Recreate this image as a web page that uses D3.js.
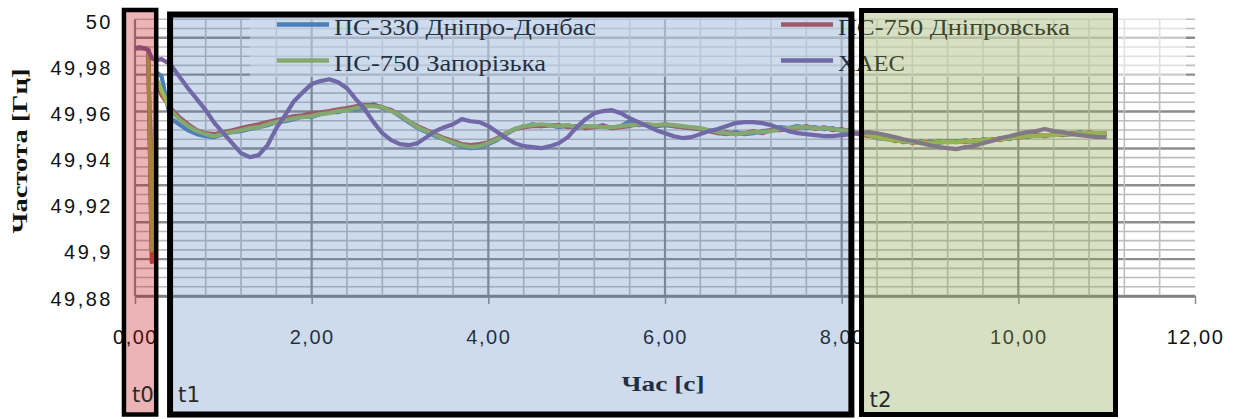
<!DOCTYPE html>
<html>
<head>
<meta charset="utf-8">
<script src="https://cdn.jsdelivr.net/npm/d3@7"></script>
<style>
  body { margin: 0; background: #fff; }
  svg { display: block; }
</style>
</head>
<body>
<svg id="chart" width="1236" height="419"></svg>
<script>
// time, s
const timeS = [
  0, 0.05, 0.1, 0.15, 0.19, 0.24, 0.3,
  0.4, 0.5, 0.6, 0.7, 0.8, 0.9, 1.0, 1.1, 1.2, 1.3,
  1.4, 1.5, 1.6, 1.7, 1.8, 1.9, 2.0, 2.1, 2.2, 2.3,
  2.4, 2.5, 2.6, 2.7, 2.8, 2.9, 3.0, 3.1, 3.2, 3.3,
  3.4, 3.5, 3.6, 3.7, 3.8, 3.9, 4.0, 4.1, 4.2, 4.3,
  4.4, 4.5, 4.6, 4.7, 4.8, 4.9, 5.0, 5.1, 5.2, 5.3,
  5.4, 5.5, 5.6, 5.7, 5.8, 5.9, 6.0, 6.1, 6.2, 6.3,
  6.4, 6.5, 6.6, 6.7, 6.8, 6.9, 7.0, 7.1, 7.2, 7.3,
  7.4, 7.5, 7.6, 7.7, 7.8, 7.9, 8.0, 8.1, 8.2, 8.3,
  8.4, 8.5, 8.6, 8.7, 8.8, 8.9, 9.0, 9.1, 9.2, 9.3,
  9.4, 9.5, 9.6, 9.7, 9.8, 9.9, 10.0, 10.1, 10.2, 10.3,
  10.4, 10.5, 10.6, 10.7, 10.8, 10.9, 11.0
];

// frequency, Hz
const dniproDonbas = [
  49.9875, 49.9875, 49.9875, 49.9871, 49.9003, 49.9771, 49.9753,
  49.9571, 49.9545, 49.9519, 49.9502, 49.9493, 49.9489, 49.9502, 49.9511, 49.9515, 49.9524,
  49.9532, 49.9541, 49.9554, 49.9558, 49.9567, 49.9580, 49.9576, 49.9589, 49.9597, 49.9597,
  49.9610, 49.9610, 49.9619, 49.9632, 49.9615, 49.9606, 49.9580, 49.9554, 49.9528, 49.9511,
  49.9493, 49.9480, 49.9463, 49.9450, 49.9441, 49.9446, 49.9459, 49.9476, 49.9502, 49.9524,
  49.9532, 49.9545, 49.9537, 49.9541, 49.9532, 49.9541, 49.9528, 49.9537, 49.9532, 49.9541,
  49.9528, 49.9537, 49.9558, 49.9541, 49.9545, 49.9537, 49.9541, 49.9537, 49.9532, 49.9528,
  49.9524, 49.9519, 49.9506, 49.9502, 49.9511, 49.9502, 49.9506, 49.9515, 49.9519, 49.9532,
  49.9528, 49.9537, 49.9528, 49.9532, 49.9524, 49.9528, 49.9515, 49.9519, 49.9502, 49.9498,
  49.9485, 49.9480, 49.9480, 49.9467, 49.9472, 49.9463, 49.9472, 49.9463, 49.9472, 49.9467,
  49.9476, 49.9467, 49.9480, 49.9476, 49.9485, 49.9480, 49.9493, 49.9489, 49.9498, 49.9493,
  49.9502, 49.9498, 49.9502, 49.9511, 49.9502, 49.9506, 49.9502
];
const dniprovska = [
  49.9875, 49.9875, 49.9875, 49.9871, 49.8947, 49.9736, 49.9671,
  49.9615, 49.9576, 49.9545, 49.9519, 49.9506, 49.9502, 49.9511, 49.9519, 49.9528, 49.9537,
  49.9545, 49.9554, 49.9563, 49.9571, 49.9580, 49.9584, 49.9593, 49.9597, 49.9602, 49.9610,
  49.9615, 49.9623, 49.9628, 49.9628, 49.9619, 49.9606, 49.9584, 49.9558, 49.9537, 49.9519,
  49.9502, 49.9485, 49.9472, 49.9459, 49.9454, 49.9459, 49.9467, 49.9485, 49.9506, 49.9524,
  49.9532, 49.9537, 49.9537, 49.9541, 49.9541, 49.9532, 49.9537, 49.9528, 49.9532, 49.9537,
  49.9528, 49.9532, 49.9537, 49.9545, 49.9541, 49.9537, 49.9545, 49.9537, 49.9532, 49.9528,
  49.9524, 49.9515, 49.9506, 49.9511, 49.9502, 49.9506, 49.9515, 49.9506, 49.9519, 49.9519,
  49.9524, 49.9528, 49.9537, 49.9524, 49.9532, 49.9519, 49.9524, 49.9511, 49.9502, 49.9493,
  49.9493, 49.9485, 49.9472, 49.9476, 49.9463, 49.9472, 49.9463, 49.9472, 49.9467, 49.9472,
  49.9467, 49.9476, 49.9472, 49.9480, 49.9476, 49.9489, 49.9485, 49.9493, 49.9498, 49.9493,
  49.9502, 49.9498, 49.9506, 49.9502, 49.9511, 49.9502, 49.9506
];
const zaporizka = [
  49.9875, 49.9875, 49.9875, 49.9871, 49.8999, 49.9745, 49.9692,
  49.9606, 49.9567, 49.9537, 49.9515, 49.9502, 49.9493, 49.9506, 49.9511, 49.9519, 49.9528,
  49.9532, 49.9545, 49.9554, 49.9563, 49.9571, 49.9576, 49.9580, 49.9589, 49.9593, 49.9602,
  49.9606, 49.9615, 49.9623, 49.9623, 49.9619, 49.9602, 49.9584, 49.9558, 49.9532, 49.9515,
  49.9498, 49.9480, 49.9467, 49.9454, 49.9446, 49.9450, 49.9463, 49.9480, 49.9506, 49.9524,
  49.9537, 49.9541, 49.9545, 49.9541, 49.9537, 49.9541, 49.9532, 49.9536, 49.9537, 49.9532,
  49.9532, 49.9537, 49.9541, 49.9545, 49.9545, 49.9541, 49.9545, 49.9541, 49.9537, 49.9532,
  49.9528, 49.9519, 49.9511, 49.9506, 49.9502, 49.9506, 49.9511, 49.9511, 49.9515, 49.9524,
  49.9528, 49.9532, 49.9532, 49.9528, 49.9528, 49.9524, 49.9519, 49.9515, 49.9506, 49.9498,
  49.9489, 49.9480, 49.9476, 49.9472, 49.9467, 49.9467, 49.9463, 49.9467, 49.9467, 49.9467,
  49.9472, 49.9472, 49.9476, 49.9476, 49.9480, 49.9485, 49.9489, 49.9493, 49.9493, 49.9498,
  49.9498, 49.9502, 49.9502, 49.9506, 49.9506, 49.9506, 49.9502
];
const haes = [
  49.9875, 49.9879, 49.9875, 49.9866, 49.9831, 49.9823, 49.9827,
  49.9805, 49.9753, 49.9701, 49.9654, 49.9606, 49.9550, 49.9506, 49.9463, 49.9420, 49.9402,
  49.9411, 49.9454, 49.9528, 49.9584, 49.9645, 49.9684, 49.9719, 49.9732, 49.9740, 49.9727,
  49.9701, 49.9654, 49.9610, 49.9554, 49.9506, 49.9476, 49.9459, 49.9454, 49.9463, 49.9489,
  49.9515, 49.9532, 49.9545, 49.9567, 49.9558, 49.9554, 49.9537, 49.9511, 49.9485, 49.9463,
  49.9450, 49.9446, 49.9441, 49.9450, 49.9463, 49.9489, 49.9532, 49.9567, 49.9593, 49.9602,
  49.9606, 49.9593, 49.9571, 49.9554, 49.9537, 49.9519, 49.9506, 49.9493, 49.9485, 49.9489,
  49.9502, 49.9515, 49.9524, 49.9537, 49.9550, 49.9554, 49.9554, 49.9550, 49.9541, 49.9528,
  49.9515, 49.9506, 49.9502, 49.9498, 49.9493, 49.9493, 49.9498, 49.9502, 49.9506, 49.9511,
  49.9506, 49.9498, 49.9489, 49.9480, 49.9472, 49.9463, 49.9454, 49.9446, 49.9441, 49.9437,
  49.9446, 49.9450, 49.9463, 49.9472, 49.9485, 49.9493, 49.9502, 49.9511, 49.9515, 49.9524,
  49.9515, 49.9511, 49.9502, 49.9498, 49.9493, 49.9489, 49.9489
];

const seriesNames = ['ПС-330 Дніпро-Донбас', 'ПС-750 Дніпровська', 'ПС-750 Запорізька', 'ХАЕС'];
const seriesValues = [dniproDonbas, dniprovska, zaporizka, haes];
const seriesColors = ['#4a7ebb', '#be4b48', '#98b954', '#7d60a0'];

const xTicks = [0, 2, 4, 6, 8, 10, 12];
const yTicks = [49.88, 49.9, 49.92, 49.94, 49.96, 49.98, 50];

// highlighted time intervals (s)
const zoneNames = ['t0', 't1', 't2'];
const zoneStart = [-0.125, 0.397, 8.225];
const zoneEnd = [0.24, 8.11, 11.1];

const svg = d3.select('#chart');

const x = d3.scaleLinear().domain([0, 12]).range([135, 1195]);
const y = d3.scaleLinear().domain([49.88, 50]).range([296, 19.3]);

const serif = '"Liberation Serif", "Times New Roman", serif';
const sans = '"Liberation Sans", Arial, sans-serif';

// gridlines: minor every 0.4 s / 0.004 Hz, major every 2 s / 0.016 Hz
const grid = svg.append('g');
const xMinor = d3.range(0, 11.9, 0.4);
const yMinor = d3.range(0, 31).map(i => 49.88 + i * 0.004);

grid.selectAll('line.hminor')
  .data(yMinor)
  .enter().append('line')
  .attr('x1', x(0)).attr('x2', x(12))
  .attr('y1', d => y(d)).attr('y2', d => y(d))
  .attr('stroke', (d, i) => i % 4 === 0 ? '#8c8c8c' : '#bdbdbd')
  .attr('stroke-width', (d, i) => i % 4 === 0 ? 2.4 : 1.6);

grid.selectAll('line.vminor')
  .data(xMinor)
  .enter().append('line')
  .attr('x1', d => x(d)).attr('x2', d => x(d))
  .attr('y1', y(50)).attr('y2', y(49.88))
  .attr('stroke', (d, i) => i % 5 === 0 ? '#8c8c8c' : '#bdbdbd')
  .attr('stroke-width', (d, i) => i % 5 === 0 ? 2.2 : 1.6);

// series
const line = d3.line()
  .x((d, i) => x(timeS[i]))
  .y(d => y(d));

svg.append('g').selectAll('path')
  .data(seriesValues)
  .enter().append('path')
  .attr('d', d => line(d))
  .attr('fill', 'none')
  .attr('stroke', (d, i) => seriesColors[i])
  .attr('stroke-width', 4.2)
  .attr('stroke-linejoin', 'round');

// x axis
const xAxis = svg.append('g')
  .attr('transform', `translate(0,${y(49.88)})`)
  .call(d3.axisBottom(x)
    .tickValues(xTicks)
    .tickSize(8)
    .tickSizeOuter(0)
    .tickFormat(d => d.toFixed(2).replace('.', ',')));
xAxis.select('.domain').attr('stroke', '#7f7f7f').attr('stroke-width', 2.5);
xAxis.selectAll('.tick line').attr('stroke', '#8c8c8c').attr('stroke-width', 1.5);
xAxis.selectAll('text')
  .attr('y', 48).attr('dy', 0)
  .attr('font-family', sans).attr('font-size', 20)
  .attr('letter-spacing', 1.5)
  .attr('fill', '#111');

// y axis
const yAxis = svg.append('g')
  .attr('transform', `translate(${x(0)},0)`)
  .call(d3.axisLeft(y)
    .tickValues(yTicks)
    .tickSize(0)
    .tickPadding(22)
    .tickFormat(d => String(+d.toFixed(2)).replace('.', ',')));
yAxis.select('.domain').remove();
yAxis.selectAll('text')
  .attr('dy', 9)
  .attr('font-family', sans).attr('font-size', 20)
  .attr('letter-spacing', 2.5)
  .attr('fill', '#111');

// axis titles
svg.append('text')
  .attr('transform', 'translate(27,151) rotate(-90)')
  .attr('text-anchor', 'middle')
  .attr('font-family', serif).attr('font-weight', 'bold').attr('font-size', 21)
  .attr('textLength', 165).attr('lengthAdjust', 'spacingAndGlyphs')
  .attr('fill', '#111')
  .text('Частота [Гц]');

svg.append('text')
  .attr('x', 663).attr('y', 391)
  .attr('text-anchor', 'middle')
  .attr('font-family', serif).attr('font-weight', 'bold').attr('font-size', 20)
  .attr('textLength', 83).attr('lengthAdjust', 'spacingAndGlyphs')
  .attr('fill', '#111')
  .text('Час [с]');

// legend
svg.append('rect')
  .attr('x', 250).attr('y', 18).attr('width', 936).attr('height', 59)
  .attr('fill', '#fff').attr('fill-opacity', 0.55);

const legendX = [277, 781, 277, 781];
const legendY = [24.5, 24.5, 60.5, 60.5];
const legendLen = [262, 232, 212, 67];
const legend = svg.append('g').selectAll('g')
  .data(seriesNames)
  .enter().append('g')
  .attr('transform', (d, i) => `translate(${legendX[i]},${legendY[i]})`);
legend.append('line')
  .attr('x1', 0).attr('x2', 52)
  .attr('stroke', (d, i) => seriesColors[i])
  .attr('stroke-width', 4.5);
legend.append('text')
  .attr('x', 57).attr('y', 10.5)
  .attr('font-family', serif).attr('font-size', 23)
  .attr('textLength', (d, i) => legendLen[i]).attr('lengthAdjust', 'spacingAndGlyphs')
  .attr('fill', '#111')
  .text(d => d);

// interval boxes on top
const zoneFill = ['rgb(192,5,12)', 'rgb(80,126,187)', 'rgb(144,166,86)'];
const zoneAlpha = [0.3, 0.28, 0.35];
const zoneTop = [10, 14.5, 10.5];
const zoneStroke = [4.5, 6, 5];

const zones = svg.append('g').selectAll('g')
  .data(zoneNames)
  .enter().append('g');
zones.append('rect')
  .attr('x', (d, i) => x(zoneStart[i]))
  .attr('y', (d, i) => zoneTop[i])
  .attr('width', (d, i) => x(zoneEnd[i]) - x(zoneStart[i]))
  .attr('height', (d, i) => 414.5 - zoneTop[i])
  .attr('fill', (d, i) => zoneFill[i])
  .attr('fill-opacity', (d, i) => zoneAlpha[i])
  .attr('stroke', '#000')
  .attr('stroke-width', (d, i) => zoneStroke[i]);
zones.append('text')
  .attr('x', (d, i) => x(zoneStart[i]) + 8)
  .attr('y', (d, i) => i === 2 ? 407 : 402)
  .attr('font-family', '"DejaVu Sans", sans-serif').attr('font-size', 22)
  .attr('textLength', 22).attr('lengthAdjust', 'spacingAndGlyphs')
  .attr('fill', '#2a2a2a')
  .text(d => d);
</script>
</body>
</html>
